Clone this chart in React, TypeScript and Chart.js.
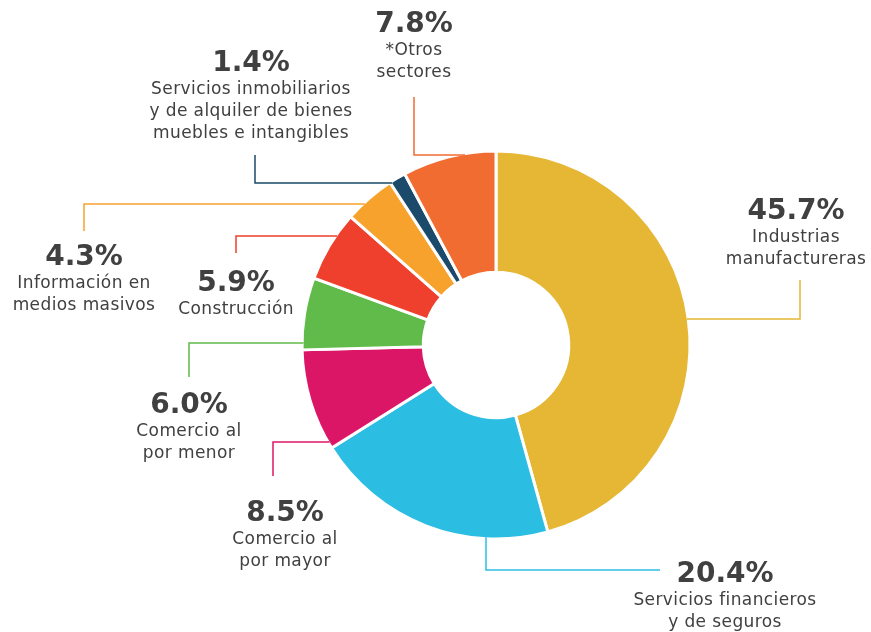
import React, { useEffect, useRef } from "react";
import { Chart, registerables } from "chart.js";

Chart.register(...registerables);

const categories = [
  "Industrias manufactureras",
  "Servicios financieros y de seguros",
  "Comercio al por mayor",
  "Comercio al por menor",
  "Construcción",
  "Información en medios masivos",
  "Servicios inmobiliarios y de alquiler de bienes muebles e intangibles",
  "*Otros sectores",
];
const shares = [45.7, 20.4, 8.5, 6.0, 5.9, 4.3, 1.4, 7.8];
const sliceColors = [
  "#E5B734",
  "#2CBDE3",
  "#DC1667",
  "#61BB4A",
  "#EE402C",
  "#F8A22E",
  "#1B4A6B",
  "#F16C30",
];
const labelTextLines = [
  ["Industrias", "manufactureras"],
  ["Servicios financieros", "y de seguros"],
  ["Comercio al", "por mayor"],
  ["Comercio al", "por menor"],
  ["Construcción"],
  ["Información en", "medios masivos"],
  ["Servicios inmobiliarios", "y de alquiler de bienes", "muebles e intangibles"],
  ["*Otros", "sectores"],
];

// label placement (layout only): text center x, percentage baseline y,
// leader elbow, leader far end, and direction of the segment that meets the ring
const labelLayout = [
  { tx: 796, ty: 219, elbow: [800, 319], end: [800, 280], dir: "h" },
  { tx: 725, ty: 582, elbow: [486, 570], end: [660, 570], dir: "v" },
  { tx: 285, ty: 521, elbow: [273, 442], end: [273, 476], dir: "h" },
  { tx: 189, ty: 413, elbow: [189, 343], end: [189, 377], dir: "h" },
  { tx: 236, ty: 291, elbow: [236, 236], end: [236, 253], dir: "h" },
  { tx: 84, ty: 265, elbow: [84, 204], end: [84, 231], dir: "h" },
  { tx: 251, ty: 71, elbow: [255, 183], end: [255, 155], dir: "h" },
  { tx: 414, ty: 32, elbow: [414, 155], end: [414, 97], dir: "h" },
];

const TEXT_COLOR = "#404041";
const FONT = "'DejaVu Sans', 'Open Sans', sans-serif";

const calloutPlugin = {
  id: "callouts",
  afterDraw(chart: any) {
    const ctx = chart.ctx;
    const meta = chart.getDatasetMeta(0);
    ctx.save();
    meta.data.forEach((arc: any, i: number) => {
      const lay = labelLayout[i];
      if (!lay) return;
      const cx = arc.x;
      const cy = arc.y;
      const r = arc.outerRadius - 1.5;
      let sx: number, sy: number;
      if (lay.dir === "h") {
        sy = lay.elbow[1];
        const dy = sy - cy;
        const dx = Math.sqrt(Math.max(r * r - dy * dy, 0));
        sx = lay.elbow[0] > cx ? cx + dx : cx - dx;
      } else {
        sx = lay.elbow[0];
        const dx = sx - cx;
        const dy = Math.sqrt(Math.max(r * r - dx * dx, 0));
        sy = lay.elbow[1] > cy ? cy + dy : cy - dy;
      }
      ctx.strokeStyle = sliceColors[i];
      ctx.lineWidth = 1.5;
      ctx.beginPath();
      ctx.moveTo(sx, sy);
      ctx.lineTo(lay.elbow[0], lay.elbow[1]);
      ctx.lineTo(lay.end[0], lay.end[1]);
      ctx.stroke();

      ctx.fillStyle = TEXT_COLOR;
      ctx.textAlign = "center";
      ctx.textBaseline = "alphabetic";
      if ("letterSpacing" in ctx) ctx.letterSpacing = "0px";
      ctx.font = `bold 28px ${FONT}`;
      ctx.fillText(shares[i].toFixed(1) + "%", lay.tx, lay.ty);
      ctx.font = `400 17px ${FONT}`;
      if ("letterSpacing" in ctx) ctx.letterSpacing = "0.4px";
      labelTextLines[i].forEach((line, j) => {
        ctx.fillText(line, lay.tx, lay.ty + 22.5 + j * 22);
      });
    });
    ctx.restore();
  },
};

export default function App() {
  const canvasRef = useRef<HTMLCanvasElement | null>(null);

  useEffect(() => {
    document.body.style.margin = "0";
    const canvas = canvasRef.current;
    if (!canvas) return;
    const chart = new Chart(canvas, {
      type: "doughnut",
      data: {
        labels: categories,
        datasets: [
          {
            data: shares,
            backgroundColor: sliceColors,
            borderColor: "#ffffff",
            borderWidth: 3,
            hoverOffset: 0,
          },
        ],
      },
      options: {
        responsive: false,
        maintainAspectRatio: false,
        animation: false,
        radius: 194,
        cutout: "37.5%",
        rotation: 0,
        layout: { padding: { left: 296, right: 175, top: 145, bottom: 87 } },
        plugins: {
          legend: { display: false },
          tooltip: { enabled: false },
        },
        events: [],
      } as any,
      plugins: [calloutPlugin],
    });
    return () => chart.destroy();
  }, []);

  return (
    <div style={{ width: 871, height: 632, background: "#ffffff" }}>
      <canvas ref={canvasRef} width={871} height={632} style={{ display: "block" }} />
    </div>
  );
}
